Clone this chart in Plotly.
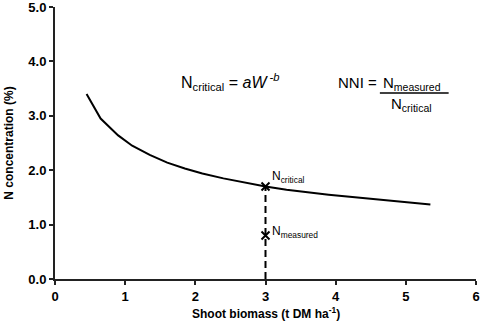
import plotly.graph_objects as go

# Critical N dilution curve
biomass = [0.45, 0.65, 0.9, 1.1, 1.35, 1.6, 1.85, 2.1, 2.4, 2.7, 3.0, 3.3, 3.6, 3.9, 4.2, 4.5, 4.8, 5.1, 5.35]
n_crit = [3.40, 2.95, 2.64, 2.45, 2.28, 2.14, 2.03, 1.94, 1.85, 1.77, 1.70, 1.64, 1.59, 1.55, 1.51, 1.47, 1.43, 1.40, 1.37]

point_w = [3.0, 3.0]
point_n = [1.70, 0.80]
point_labels = ["N<sub>critical</sub>", "N<sub>measured</sub>"]
point_label_shift = [10, 3]

x_ticks = [0, 1, 2, 3, 4, 5, 6]
y_ticks = [0, 1, 2, 3, 4, 5]
y_ticklabels = ["0.0", "1.0", "2.0", "3.0", "4.0", "5.0"]

FONT = "Liberation Sans, Arial, sans-serif"

fig = go.Figure()
fig.add_trace(go.Scatter(x=biomass, y=n_crit, mode="lines",
                         line=dict(color="black", width=2), showlegend=False))
fig.add_trace(go.Scatter(x=[point_w[0], point_w[0]], y=[0, point_n[0]], mode="lines",
                         line=dict(color="black", width=2, dash="7px,4px"), showlegend=False))
fig.add_trace(go.Scatter(x=point_w, y=point_n, mode="markers",
                         marker=dict(symbol="x-thin", size=8, line=dict(color="black", width=2)),
                         showlegend=False, cliponaxis=False))

for w, n, t, s in zip(point_w, point_n, point_labels, point_label_shift):
    fig.add_annotation(x=w, y=n, text=t, showarrow=False, xanchor="left", yanchor="middle",
                       xshift=4, yshift=s, font=dict(family=FONT, size=12, color="black"))

# Formula annotations
fig.add_annotation(x=2.5, y=3.62,
                   text="N<sub>critical</sub> = <i>aW</i><sup><i> -b</i></sup>",
                   showarrow=False, font=dict(family=FONT, size=16, color="black"))
fig.add_annotation(x=4.62, y=3.62, text="NNI =", showarrow=False, xanchor="right",
                   font=dict(family=FONT, size=15, color="black"))
fig.add_annotation(x=5.09, y=3.6, text="N<sub>measured</sub>", showarrow=False,
                   font=dict(family=FONT, size=15, color="black"))
fig.add_annotation(x=5.08, y=3.2, text="N<sub>critical</sub>", showarrow=False,
                   font=dict(family=FONT, size=15, color="black"))
fig.add_shape(type="line", x0=4.63, x1=5.61, y0=3.42, y1=3.42, xref="x", yref="y",
              line=dict(color="black", width=1.5))

# Axis titles
fig.add_annotation(xref="paper", yref="paper", x=0.5, y=-0.09, yanchor="top",
                   text="<b>Shoot biomass (t DM ha<sup>-1</sup>)</b>", showarrow=False,
                   font=dict(family=FONT, size=12, color="black"))
fig.add_annotation(xref="paper", yref="paper", x=-0.11, y=0.5, xanchor="center",
                   text="<b>N concentration (%)</b>", textangle=-90, showarrow=False,
                   font=dict(family=FONT, size=12, color="black"))

fig.update_layout(
    width=480, height=322,
    margin=dict(l=55, r=4, t=7, b=43),
    paper_bgcolor="white", plot_bgcolor="white",
    font=dict(family=FONT, color="black"),
)
fig.update_xaxes(range=[0, 6], tickvals=x_ticks, showgrid=False, zeroline=False,
                 showline=True, linecolor="#222", linewidth=2, ticks="outside", ticklen=4,
                 tickwidth=1.5, tickcolor="#222", ticklabeloverflow="allow", automargin=False,
                 tickfont=dict(family=FONT, size=13, color="black", weight="bold"))
fig.update_yaxes(range=[0, 5], tickvals=y_ticks, ticktext=y_ticklabels, showgrid=False,
                 zeroline=False, showline=True, linecolor="#222", linewidth=2,
                 ticks="outside", ticklen=4, tickwidth=1.5, tickcolor="#222",
                 ticklabeloverflow="allow", automargin=False,
                 tickfont=dict(family=FONT, size=13, color="black", weight="bold"))

fig.write_html("out.html", config={"displayModeBar": False},
               post_script="document.body.style.margin='0';document.body.style.overflow='hidden';")
